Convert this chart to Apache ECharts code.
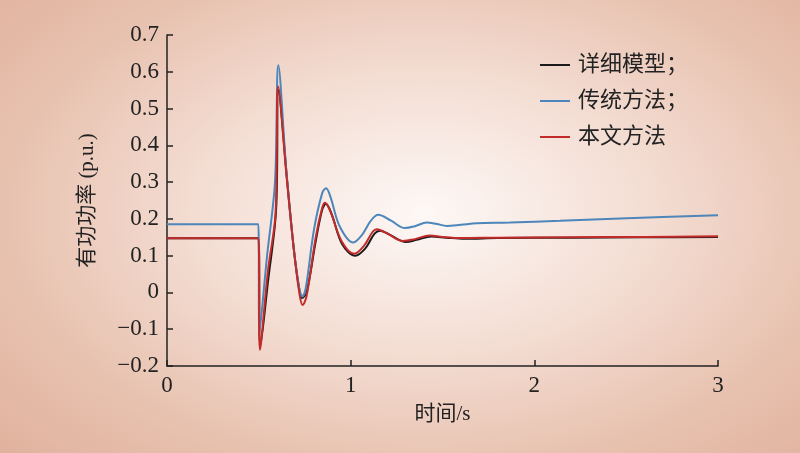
<!DOCTYPE html>
<html>
<head>
<meta charset="utf-8">
<script src="https://cdn.jsdelivr.net/npm/echarts@6/dist/echarts.min.js"></script>
<style>
html,body{margin:0;padding:0;}
body{width:800px;height:453px;background:radial-gradient(ellipse 72% 78% at 53% 47%, #fdf8f6 0%, #f4ded4 38%, #e8c2b0 72%, #e0b29d 100%);}
#c{width:800px;height:453px;}
</style>
</head>
<body>
<div id="c"></div>
<script>
// Data
const seriesNames = ['详细模型；', '传统方法；', '本文方法'];
const xTicks = [0, 1, 2, 3];
const yTicks = [-0.2, -0.1, 0, 0.1, 0.2, 0.3, 0.4, 0.5, 0.6, 0.7];

const detailT = [0, 0.497, 0.508, 0.55, 0.594, 0.607, 0.655, 0.69, 0.72, 0.735, 0.76, 0.81, 0.845, 0.865, 0.895, 0.955, 1.025, 1.08, 1.13, 1.16, 1.22, 1.30, 1.36, 1.44, 1.52, 1.62, 1.8, 2.2, 2.6, 3.0];
const detailV = [0.1475, 0.1475, -0.145, 0.03, 0.225, 0.55, 0.30, 0.12, 0.01, -0.015, 0.0, 0.14, 0.225, 0.241, 0.215, 0.13, 0.10, 0.12, 0.16, 0.168, 0.155, 0.137, 0.143, 0.152, 0.149, 0.146, 0.148, 0.149, 0.150, 0.151];

const tradT = [0, 0.497, 0.503, 0.545, 0.588, 0.606, 0.65, 0.69, 0.72, 0.737, 0.755, 0.80, 0.845, 0.866, 0.89, 0.94, 1.014, 1.06, 1.11, 1.15, 1.22, 1.296, 1.35, 1.414, 1.47, 1.523, 1.6, 1.686, 1.867, 2.14, 2.503, 3.0];
const tradV = [0.1856, 0.1856, -0.11, 0.10, 0.30, 0.618, 0.33, 0.12, 0.01, -0.011, 0.01, 0.17, 0.27, 0.283, 0.26, 0.18, 0.136, 0.155, 0.195, 0.211, 0.195, 0.175, 0.18, 0.19, 0.186, 0.181, 0.184, 0.188, 0.190, 0.195, 0.202, 0.21];

const propT = [0, 0.497, 0.506, 0.55, 0.591, 0.605, 0.652, 0.69, 0.72, 0.738, 0.76, 0.81, 0.845, 0.86, 0.89, 0.95, 1.02, 1.07, 1.12, 1.142, 1.2, 1.285, 1.35, 1.43, 1.5, 1.6, 1.8, 2.2, 2.6, 3.0];
const propV = [0.1475, 0.1475, -0.156, 0.06, 0.215, 0.56, 0.31, 0.12, 0.0, -0.034, -0.01, 0.15, 0.23, 0.244, 0.22, 0.14, 0.105, 0.125, 0.165, 0.172, 0.16, 0.14, 0.145, 0.155, 0.151, 0.148, 0.149, 0.150, 0.151, 0.153];

const colors = ['#1b1b1b', '#4d86ba', '#c32a2a'];
const pairs = (t, v) => t.map((x, i) => [x, v[i]]);
const fmtNum = v => {
  const s = (Math.round(Math.abs(v) * 10) / 10).toString();
  return v < -1e-9 ? '\u2212' + s : s;
};
const serif = "'Liberation Serif','Times New Roman','Noto Sans CJK SC',serif";
const cjk = "'Liberation Serif','Noto Sans CJK SC',serif";

const chart = echarts.init(document.getElementById('c'), null, {renderer: 'canvas'});
const mk = (name, t, v, color) => ({
  name: name, type: 'line', data: pairs(t, v), showSymbol: false, symbol: 'none',
  smooth: 0.35, lineStyle: {color: color, width: 2}, itemStyle: {color: color}, z: 2
});
chart.setOption({
  backgroundColor: 'transparent',
  animation: false,
  grid: {left: 167, right: 82, top: 35, bottom: 87},
  legend: {
    orient: 'vertical', left: 535, top: 49, itemWidth: 30, itemHeight: 2, itemGap: 14,
    icon: 'rect',
    textStyle: {fontFamily: cjk, fontSize: 22, color: '#222', padding: [0, 0, 0, 3]},
    data: seriesNames
  },
  xAxis: {
    type: 'value', min: 0, max: 3, interval: 1,
    name: '时间/s', nameLocation: 'middle', nameGap: 38,
    nameTextStyle: {fontFamily: cjk, fontSize: 21, color: '#222'},
    axisLine: {show: true, onZero: false, lineStyle: {color: '#222', width: 1.5}},
    axisTick: {show: true, inside: true, length: 6, lineStyle: {color: '#222', width: 1.5}},
    axisLabel: {fontFamily: serif, fontSize: 23, color: '#222', margin: 8, formatter: v => fmtNum(v)},
    splitLine: {show: false}
  },
  yAxis: {
    type: 'value', min: -0.2, max: 0.7, interval: 0.1,
    name: '有功功率 (p.u.)', nameLocation: 'middle', nameGap: 69, nameRotate: 90,
    nameTextStyle: {fontFamily: cjk, fontSize: 21, color: '#222'},
    axisLine: {show: true, onZero: false, lineStyle: {color: '#222', width: 1.5}},
    axisTick: {show: true, inside: true, length: 6, lineStyle: {color: '#222', width: 1.5}},
    axisLabel: {fontFamily: serif, fontSize: 23, color: '#222', margin: 8, formatter: v => fmtNum(v)},
    splitLine: {show: false}
  },
  series: [
    mk(seriesNames[0], detailT, detailV, colors[0]),
    mk(seriesNames[1], tradT, tradV, colors[1]),
    mk(seriesNames[2], propT, propV, colors[2])
  ]
});
</script>
</body>
</html>
